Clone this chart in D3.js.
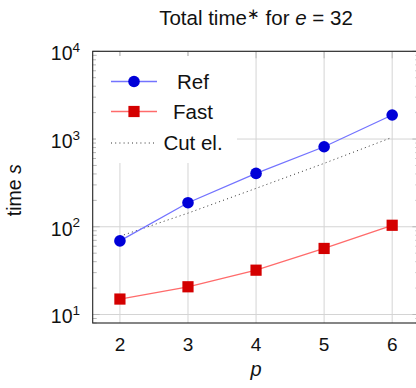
<!DOCTYPE html>
<html>
<head>
<meta charset="utf-8">
<script src="https://cdn.jsdelivr.net/npm/d3@7"></script>
<style>
  body { margin: 0; background: #fff; }
  text { font-family: "Liberation Sans", Arial, sans-serif; fill: #111; }
</style>
</head>
<body>
<div id="chart"></div>
<script>
const orders = [2, 3, 4, 5, 6]
const refTimes = [69, 188, 406, 817, 1880]
const fastTimes = [15, 20.7, 32, 56.6, 104]
const cutTimes = [78, 143, 274, 528, 1045]
const yTickPowers = [1, 2, 3, 4]

const width = 416
const height = 388
const plotLeft = 92.7, plotRight = 419.4, plotTop = 51.3, plotBottom = 323

const svg = d3.select("#chart")
  .append("svg")
  .attr("width", width)
  .attr("height", height)

const x = d3.scaleLinear().domain([1.6, 6.4]).range([plotLeft, plotRight])
const y = d3.scaleLog().domain([8, 10000]).range([plotBottom, plotTop])

const plot = svg.append("g")

// grid
plot.selectAll(".vgrid")
  .data(orders)
  .enter()
  .append("line")
  .attr("x1", d => x(d)).attr("x2", d => x(d))
  .attr("y1", plotTop).attr("y2", plotBottom)
  .attr("stroke", "#d4d4d4")
  .attr("stroke-width", 1)

plot.selectAll(".hgrid")
  .data(yTickPowers)
  .enter()
  .append("line")
  .attr("x1", plotLeft).attr("x2", plotRight)
  .attr("y1", d => y(Math.pow(10, d))).attr("y2", d => y(Math.pow(10, d)))
  .attr("stroke", "#d4d4d4")
  .attr("stroke-width", 1)

// series
const line = d3.line()
  .x((d, i) => x(orders[i]))
  .y(d => y(d))

plot.append("path")
  .datum(cutTimes)
  .attr("d", line)
  .attr("fill", "none")
  .attr("stroke", "#333")
  .attr("stroke-width", 1)
  .attr("stroke-dasharray", "1,3.2")

plot.append("path")
  .datum(refTimes)
  .attr("d", line)
  .attr("fill", "none")
  .attr("stroke", "#7373ff")
  .attr("stroke-width", 1.3)

plot.append("path")
  .datum(fastTimes)
  .attr("d", line)
  .attr("fill", "none")
  .attr("stroke", "#ff6b6b")
  .attr("stroke-width", 1.3)

plot.selectAll(".ref")
  .data(refTimes)
  .enter()
  .append("circle")
  .attr("cx", (d, i) => x(orders[i]))
  .attr("cy", d => y(d))
  .attr("r", 5.8)
  .attr("fill", "#0000d8")

plot.selectAll(".fast")
  .data(fastTimes)
  .enter()
  .append("rect")
  .attr("x", (d, i) => x(orders[i]) - 5.6)
  .attr("y", d => y(d) - 5.6)
  .attr("width", 11.2)
  .attr("height", 11.2)
  .attr("fill", "#d40000")

// legend
const legend = svg.append("g")
legend.append("rect")
  .attr("x", 96).attr("y", 56)
  .attr("width", 141).attr("height", 107)
  .attr("fill", "#fff")

const entries = [
  { name: "Ref", color: "#7373ff", dash: null, marker: "circle", y: 81.5 },
  { name: "Fast", color: "#ff6b6b", dash: null, marker: "square", y: 111.5 },
  { name: "Cut el.", color: "#333", dash: "1,3.2", marker: null, y: 143 }
]
entries.forEach(e => {
  legend.append("line")
    .attr("x1", 111).attr("x2", 157)
    .attr("y1", e.y).attr("y2", e.y)
    .attr("stroke", e.color)
    .attr("stroke-width", e.dash ? 1 : 1.3)
    .attr("stroke-dasharray", e.dash)
  if (e.marker === "circle") {
    legend.append("circle").attr("cx", 134).attr("cy", e.y).attr("r", 5.8).attr("fill", "#0000d8")
  } else if (e.marker === "square") {
    legend.append("rect").attr("x", 134 - 5.6).attr("y", e.y - 5.6)
      .attr("width", 11.2).attr("height", 11.2).attr("fill", "#d40000")
  }
  legend.append("text")
    .attr("x", 193).attr("y", e.y + 7)
    .attr("text-anchor", "middle")
    .attr("font-size", 20.5)
    .text(e.name)
})

// ticks (drawn over legend)
const minor = []
for (let p = 0; p <= 3; p++) {
  for (let m = 2; m <= 9; m++) {
    const v = m * Math.pow(10, p)
    if (v >= 8 && v <= 10000) minor.push(v)
  }
}
const tickColor = "#b8b8b8"
plot.selectAll(".minorL")
  .data(minor).enter().append("line")
  .attr("x1", plotLeft).attr("x2", plotLeft + 4)
  .attr("y1", d => y(d)).attr("y2", d => y(d))
  .attr("stroke", tickColor)
plot.selectAll(".minorR")
  .data(minor).enter().append("line")
  .attr("x1", plotRight - 4).attr("x2", plotRight)
  .attr("y1", d => y(d)).attr("y2", d => y(d))
  .attr("stroke", tickColor)
plot.selectAll(".majorL")
  .data(yTickPowers).enter().append("line")
  .attr("x1", plotLeft).attr("x2", plotLeft + 7)
  .attr("y1", d => y(Math.pow(10, d))).attr("y2", d => y(Math.pow(10, d)))
  .attr("stroke", tickColor)
plot.selectAll(".majorR")
  .data(yTickPowers).enter().append("line")
  .attr("x1", plotRight - 7).attr("x2", plotRight)
  .attr("y1", d => y(Math.pow(10, d))).attr("y2", d => y(Math.pow(10, d)))
  .attr("stroke", tickColor)
plot.selectAll(".topTick")
  .data(orders).enter().append("line")
  .attr("x1", d => x(d)).attr("x2", d => x(d))
  .attr("y1", plotTop).attr("y2", plotTop + 7)
  .attr("stroke", tickColor)

// frame
plot.append("rect")
  .attr("x", plotLeft).attr("y", plotTop)
  .attr("width", plotRight - plotLeft).attr("height", plotBottom - plotTop)
  .attr("fill", "none")
  .attr("stroke", "#222")
  .attr("stroke-width", 1.1)

// x tick labels
svg.selectAll(".xlab")
  .data(orders).enter().append("text")
  .attr("x", d => x(d))
  .attr("y", 351)
  .attr("text-anchor", "middle")
  .attr("font-size", 19)
  .text(d => d)

// y tick labels with superscripts
yTickPowers.forEach(p => {
  const t = svg.append("text")
    .attr("x", 80)
    .attr("y", y(Math.pow(10, p)) + 9)
    .attr("text-anchor", "end")
    .attr("font-size", 19.5)
  t.append("tspan").text("10")
  t.append("tspan")
    .attr("font-size", 13.5)
    .attr("dy", -8.5)
    .text(p)
})

// axis labels and title
svg.append("text")
  .attr("x", (plotLeft + plotRight) / 2)
  .attr("y", 376)
  .attr("text-anchor", "middle")
  .attr("font-size", 20)
  .attr("font-style", "italic")
  .text("p")

const ylab = svg.append("text")
  .attr("transform", `translate(21,${(plotTop + plotBottom) / 2 + 3}) rotate(-90)`)
  .attr("text-anchor", "middle")
  .attr("font-size", 19.5)
ylab.append("tspan").text("time ")
ylab.append("tspan").attr("font-style", "italic").text("s")

const title = svg.append("text")
  .attr("x", 256)
  .attr("y", 25)
  .attr("text-anchor", "middle")
  .attr("font-size", 20.5)
title.append("tspan").text("Total time")
title.append("tspan").attr("font-size", 15).attr("dy", -6).text("\u2217")
title.append("tspan").attr("dy", 6).text("  for ")
title.append("tspan").attr("font-style", "italic").text("e")
title.append("tspan").text(" = 32")
</script>
</body>
</html>
